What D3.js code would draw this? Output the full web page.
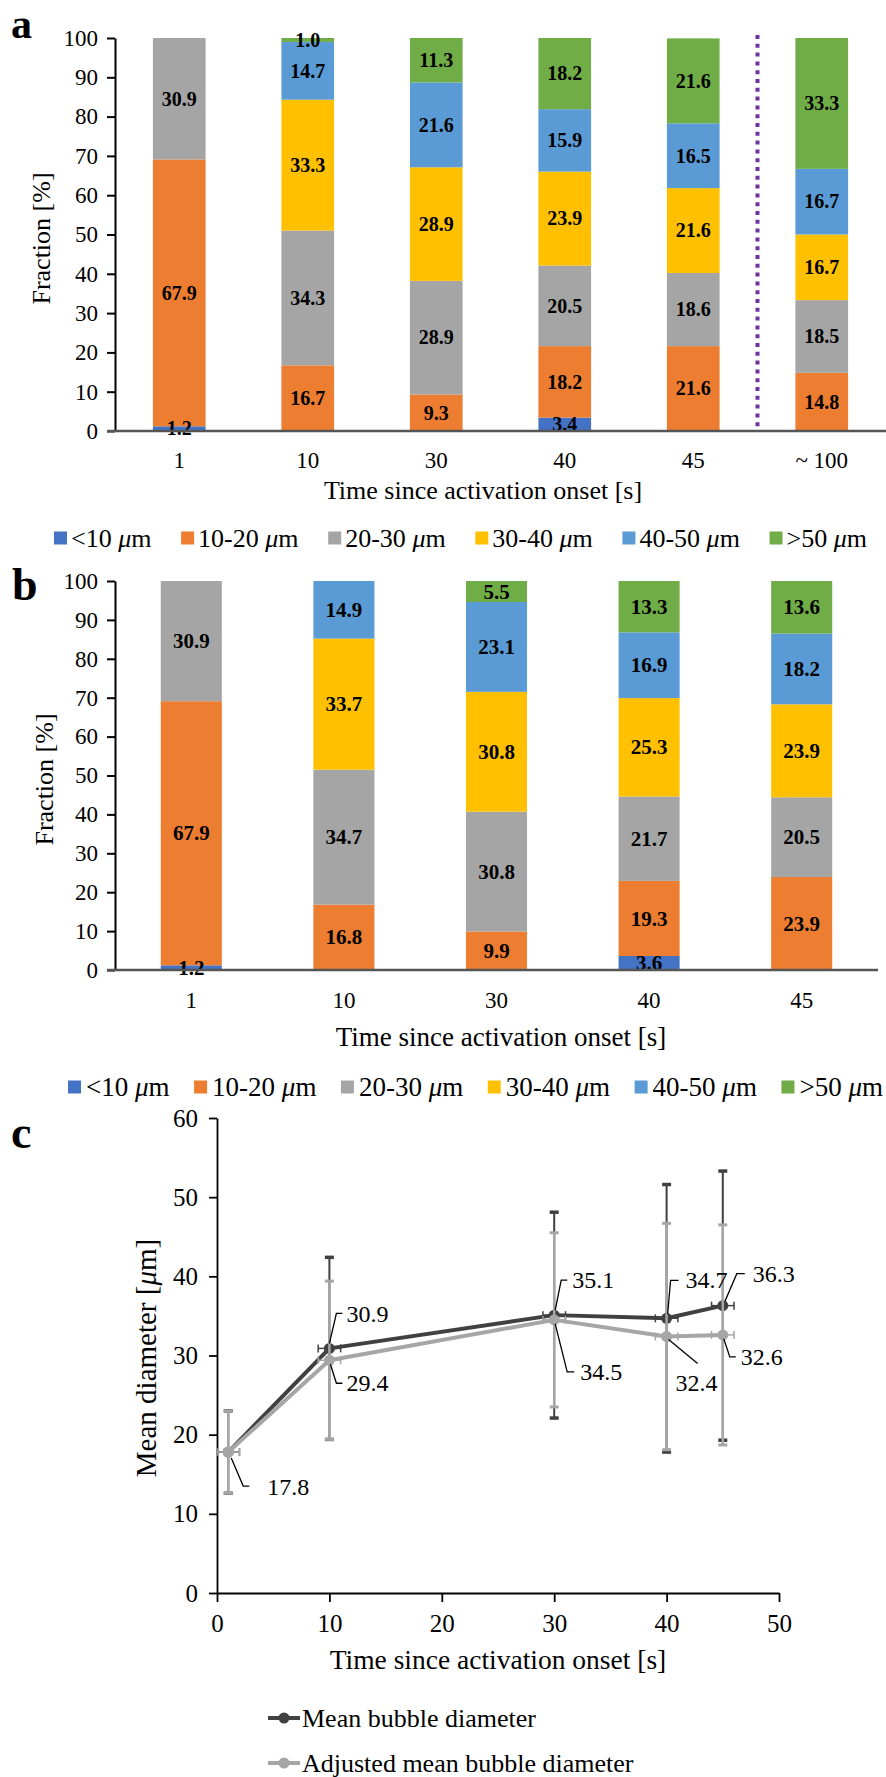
<!DOCTYPE html>
<html><head><meta charset="utf-8">
<script src="https://cdn.jsdelivr.net/npm/d3@7"></script>
<style>
body{margin:0;background:#fff}
svg{display:block}
text{font-family:"Liberation Serif","Times New Roman",serif;fill:#000}
</style>
</head><body>
<svg id="chart" width="886" height="1777"></svg>
<script>
// ---------------- DATA ----------------
const bins = ["<10", "10-20", "20-30", "30-40", "40-50", ">50"];

// panel a
const catsA = ["1", "10", "30", "40", "45", "~ 100"];
const a_lt10  = [1.2, 0, 0, 3.4, 0, 0];
const a_10_20 = [67.9, 16.7, 9.3, 18.2, 21.6, 14.8];
const a_20_30 = [30.9, 34.3, 28.9, 20.5, 18.6, 18.5];
const a_30_40 = [0, 33.3, 28.9, 23.9, 21.6, 16.7];
const a_40_50 = [0, 14.7, 21.6, 15.9, 16.5, 16.7];
const a_gt50  = [0, 1.0, 11.3, 18.2, 21.6, 33.3];

// panel b
const catsB = ["1", "10", "30", "40", "45"];
const b_lt10  = [1.2, 0, 0, 3.6, 0];
const b_10_20 = [67.9, 16.8, 9.9, 19.3, 23.9];
const b_20_30 = [30.9, 34.7, 30.8, 21.7, 20.5];
const b_30_40 = [0, 33.7, 30.8, 25.3, 23.9];
const b_40_50 = [0, 14.9, 23.1, 16.9, 18.2];
const b_gt50  = [0, 0, 5.5, 13.3, 13.6];

const barTicks = [0, 10, 20, 30, 40, 50, 60, 70, 80, 90, 100];

// panel c
const timeC   = [1, 10, 30, 40, 45];
const timeErr = [1, 1, 1, 1, 1];
const meanDiam = [17.8, 30.9, 35.1, 34.7, 36.3];
const meanErr  = [5.2, 11.5, 13.0, 16.9, 17.0];
const adjDiam  = [17.8, 29.4, 34.5, 32.4, 32.6];
const adjErr   = [5.2, 10.0, 11.0, 14.3, 13.9];
const xTicksC = [0, 10, 20, 30, 40, 50];
const yTicksC = [0, 10, 20, 30, 40, 50, 60];

// ---------------- STYLE ----------------
const palette = ["#4472C4", "#ED7D31", "#A5A5A5", "#FFC000", "#5B9BD5", "#70AD47"];
const FONT = '"Liberation Serif","Times New Roman",serif';

const svg = d3.select("#chart");
svg.append("rect").attr("width", 886).attr("height", 1777).attr("fill", "#fff");

function micro(sel, pre, post) {
  sel.append("tspan").text(pre);
  sel.append("tspan").attr("font-style", "italic").text("\u03bc");
  sel.append("tspan").text(post);
}

function barPanel(o) {
  const g = svg.append("g");
  const rows = o.cats.map((c, i) => {
    const r = {cat: c};
    bins.forEach((b, k) => r[b] = o.series[k][i]);
    return r;
  });
  const x = d3.scaleBand().domain(o.cats).range([o.x0, o.x1]).paddingInner(o.pad).paddingOuter(o.pad / 2);
  const y = d3.scaleLinear().domain([0, 100]).range([o.yB, o.yT]);
  const stack = d3.stack().keys(bins)(rows);

  stack.forEach((layer, k) => {
    const lg = g.append("g");
    layer.forEach((d, i) => {
      const v = rows[i][bins[k]];
      if (v <= 0) return;
      const top = Math.min(d[1], 100);
      lg.append("rect")
        .attr("x", x(rows[i].cat)).attr("width", x.bandwidth())
        .attr("y", y(top)).attr("height", y(d[0]) - y(top))
        .attr("fill", palette[k]);
    });
  });
  stack.forEach((layer, k) => {
    layer.forEach((d, i) => {
      const v = rows[i][bins[k]];
      if (v <= 0) return;
      const top = Math.min(d[1], 100);
      g.append("text")
        .attr("x", x(rows[i].cat) + x.bandwidth() / 2)
        .attr("y", y((d[0] + top) / 2))
        .attr("dy", "0.34em")
        .attr("text-anchor", "middle")
        .attr("font-weight", "bold")
        .attr("font-size", o.labFs)
        .text(v.toFixed(1));
    });
  });

  const ya = g.append("g").attr("transform", `translate(${o.x0},0)`)
    .call(d3.axisLeft(y).tickValues(barTicks).tickSize(8).tickSizeOuter(0).tickPadding(9));
  ya.select(".domain").attr("stroke", "#000").attr("stroke-width", 2);
  ya.selectAll(".tick line").attr("stroke", "#000").attr("stroke-width", 2);
  ya.selectAll("text").attr("font-family", FONT).attr("font-size", o.tickFs).attr("fill", "#000");

  g.append("line").attr("x1", o.x0 - 8).attr("x2", o.x1).attr("y1", o.yB).attr("y2", o.yB)
    .attr("stroke", "#555").attr("stroke-width", 2.5);
  o.cats.forEach(c => {
    g.append("text").attr("x", x(c) + x.bandwidth() / 2).attr("y", o.xlabY).attr("dy", "0.34em")
      .attr("text-anchor", "middle").attr("font-size", o.tickFs).text(c);
  });
  g.append("text").attr("x", o.titleX).attr("y", o.titleY).attr("dy", "0.34em")
    .attr("text-anchor", "middle").attr("font-size", o.titleFs).text("Time since activation onset [s]");
  g.append("text").attr("transform", `translate(${o.yTitleX},${(o.yT + o.yB) / 2 + 4}) rotate(-90)`)
    .attr("dy", "0.34em").attr("text-anchor", "middle").attr("font-size", o.yTitleFs).text("Fraction [%]");

  g.append("text").attr("x", o.letterX).attr("y", o.letterY).attr("font-weight", "bold")
    .attr("font-size", o.letterFs).text(o.letter);

  // legend: spread items between legX0 and legX1
  const items = bins.map((b, k) => {
    const t = g.append("text").attr("y", o.legY).attr("dy", "0.34em").attr("font-size", o.legFs);
    micro(t, b + " ", "m");
    return {t, w: t.node().getComputedTextLength(), k};
  });
  const used = d3.sum(items, it => o.legOff + it.w);
  const gap = (o.legX1 - o.legX0 - used) / (items.length - 1);
  let lx = o.legX0;
  items.forEach(it => {
    g.append("rect").attr("x", lx).attr("y", o.legY - 6.5).attr("width", 13).attr("height", 13).attr("fill", palette[it.k]);
    it.t.attr("x", lx + o.legOff);
    lx += o.legOff + it.w + gap;
  });
  return {x, y, g};
}

const pa = barPanel({
  cats: catsA, series: [a_lt10, a_10_20, a_20_30, a_30_40, a_40_50, a_gt50],
  x0: 115, x1: 886, yT: 38, yB: 431, pad: 0.59,
  labFs: 20, tickFs: 23, titleFs: 26, yTitleFs: 26,
  xlabY: 460, titleX: 483, titleY: 490, yTitleX: 41,
  letter: "a", letterX: 11, letterY: 37.5, letterFs: 42,
  legX0: 54, legX1: 867, legY: 538, legOff: 17, legFs: 26
});
{
  const xs = (pa.x("45") + pa.x.bandwidth() + pa.x("~ 100")) / 2;
  pa.g.append("line").attr("x1", xs).attr("x2", xs).attr("y1", 35).attr("y2", 431)
    .attr("stroke", "#7030A0").attr("stroke-width", 4).attr("stroke-dasharray", "4,4.8");
}

barPanel({
  cats: catsB, series: [b_lt10, b_10_20, b_20_30, b_30_40, b_40_50, b_gt50],
  x0: 115, x1: 878, yT: 581, yB: 970, pad: 0.6,
  labFs: 21, tickFs: 23, titleFs: 27, yTitleFs: 26,
  xlabY: 1000, titleX: 501, titleY: 1037, yTitleX: 44,
  letter: "b", letterX: 12, letterY: 600, letterFs: 46,
  legX0: 68, legX1: 883, legY: 1087, legOff: 18, legFs: 27
});

// ---------------- PANEL C ----------------
{
  const g = svg.append("g");
  const x = d3.scaleLinear().domain([0, 50]).range([217, 779]);
  const y = d3.scaleLinear().domain([0, 60]).range([1593, 1118]);

  const xa = g.append("g").attr("transform", "translate(0,1593)")
    .call(d3.axisBottom(x).tickValues(xTicksC).tickSize(9).tickSizeOuter(0).tickPadding(12));
  const ya = g.append("g").attr("transform", "translate(217,0)")
    .call(d3.axisLeft(y).tickValues(yTicksC).tickSize(8).tickSizeOuter(0).tickPadding(11));
  [xa, ya].forEach(a => {
    a.select(".domain").attr("stroke", "#000").attr("stroke-width", 1.8);
    a.selectAll(".tick line").attr("stroke", "#000").attr("stroke-width", 1.8);
    a.selectAll("text").attr("font-family", FONT).attr("font-size", 25).attr("fill", "#000");
  });
  xa.selectAll("text").attr("dy", "0.71em");

  g.append("text").attr("x", 498).attr("y", 1660).attr("dy", "0.34em").attr("text-anchor", "middle")
    .attr("font-size", 27.5).text("Time since activation onset [s]");
  const yt = g.append("text").attr("transform", "translate(146,1358) rotate(-90)")
    .attr("dy", "0.34em").attr("text-anchor", "middle").attr("font-size", 29);
  micro(yt, "Mean diameter [", "m]");
  g.append("text").attr("x", 11).attr("y", 1148).attr("font-weight", "bold").attr("font-size", 46).text("c");

  function series(vals, errs, col, ew, capw) {
    const sg = g.append("g");
    timeC.forEach((t, i) => {
      const cx = x(t), cy = y(vals[i]);
      const y1 = y(vals[i] - errs[i]), y2 = y(vals[i] + errs[i]);
      sg.append("line").attr("x1", cx).attr("x2", cx).attr("y1", y1).attr("y2", y2).attr("stroke", col).attr("stroke-width", ew);
      [y1, y2].forEach(yy => sg.append("line").attr("x1", cx - 4.5).attr("x2", cx + 4.5).attr("y1", yy).attr("y2", yy)
        .attr("stroke", col).attr("stroke-width", capw));
      const x1 = x(t - timeErr[i]), x2 = x(t + timeErr[i]);
      sg.append("line").attr("x1", x1).attr("x2", x2).attr("y1", cy).attr("y2", cy).attr("stroke", col).attr("stroke-width", 1.5);
      [x1, x2].forEach(xx => sg.append("line").attr("x1", xx).attr("x2", xx).attr("y1", cy - 4).attr("y2", cy + 4)
        .attr("stroke", col).attr("stroke-width", 1.5));
    });
    sg.append("path").datum(timeC.map((t, i) => [x(t), y(vals[i])]))
      .attr("d", d3.line()).attr("fill", "none").attr("stroke", col).attr("stroke-width", 4).attr("stroke-linejoin", "round");
    timeC.forEach((t, i) => sg.append("circle").attr("cx", x(t)).attr("cy", y(vals[i])).attr("r", 5.5).attr("fill", col));
  }
  series(meanDiam, meanErr, "#404040", 2, 3.5);
  series(adjDiam, adjErr, "#A6A6A6", 2.5, 3);

  const meanLab = [null,
    {lead: [[0, -5], [7, -35], [13, -35]], dx: 17, dy: -35},
    {lead: [[1, -5], [7, -35], [13, -35]], dx: 18, dy: -35},
    {lead: [[1, -4], [4, -38], [12, -38]], dx: 19, dy: -38},
    {lead: [[2, -4], [14, -32], [22, -32]], dx: 30, dy: -32}];
  const adjLab = [
    {lead: [[3, 6], [15, 34], [21, 34]], dx: 39, dy: 35},
    {lead: [[1, 4], [7, 23], [13, 23]], dx: 17, dy: 23},
    {lead: [[1, 4], [13, 52], [20, 52]], dx: 26, dy: 52},
    {lead: [[2, 3], [31, 27]], dx: 9, dy: 46},
    {lead: [[1, 4], [7, 22], [13, 22]], dx: 18, dy: 22}];
  function labels(vals, labs) {
    timeC.forEach((t, i) => {
      const L = labs[i];
      if (!L) return;
      const cx = x(t), cy = y(vals[i]);
      g.append("path").attr("d", d3.line()(L.lead.map(p => [cx + p[0], cy + p[1]])))
        .attr("fill", "none").attr("stroke", "#000").attr("stroke-width", 1.3);
      g.append("text").attr("x", cx + L.dx).attr("y", cy + L.dy).attr("dy", "0.34em")
        .attr("font-size", 24).text(vals[i].toFixed(1));
    });
  }
  labels(meanDiam, meanLab);
  labels(adjDiam, adjLab);

  const legItems = [["Mean bubble diameter", "#404040", 1718], ["Adjusted mean bubble diameter", "#A6A6A6", 1763]];
  legItems.forEach(([name, col, ly]) => {
    g.append("line").attr("x1", 268).attr("x2", 300).attr("y1", ly).attr("y2", ly).attr("stroke", col).attr("stroke-width", 4);
    g.append("circle").attr("cx", 284).attr("cy", ly).attr("r", 5.5).attr("fill", col);
    g.append("text").attr("x", 302).attr("y", ly).attr("dy", "0.34em").attr("font-size", 26).text(name);
  });
}
</script>
</body></html>
